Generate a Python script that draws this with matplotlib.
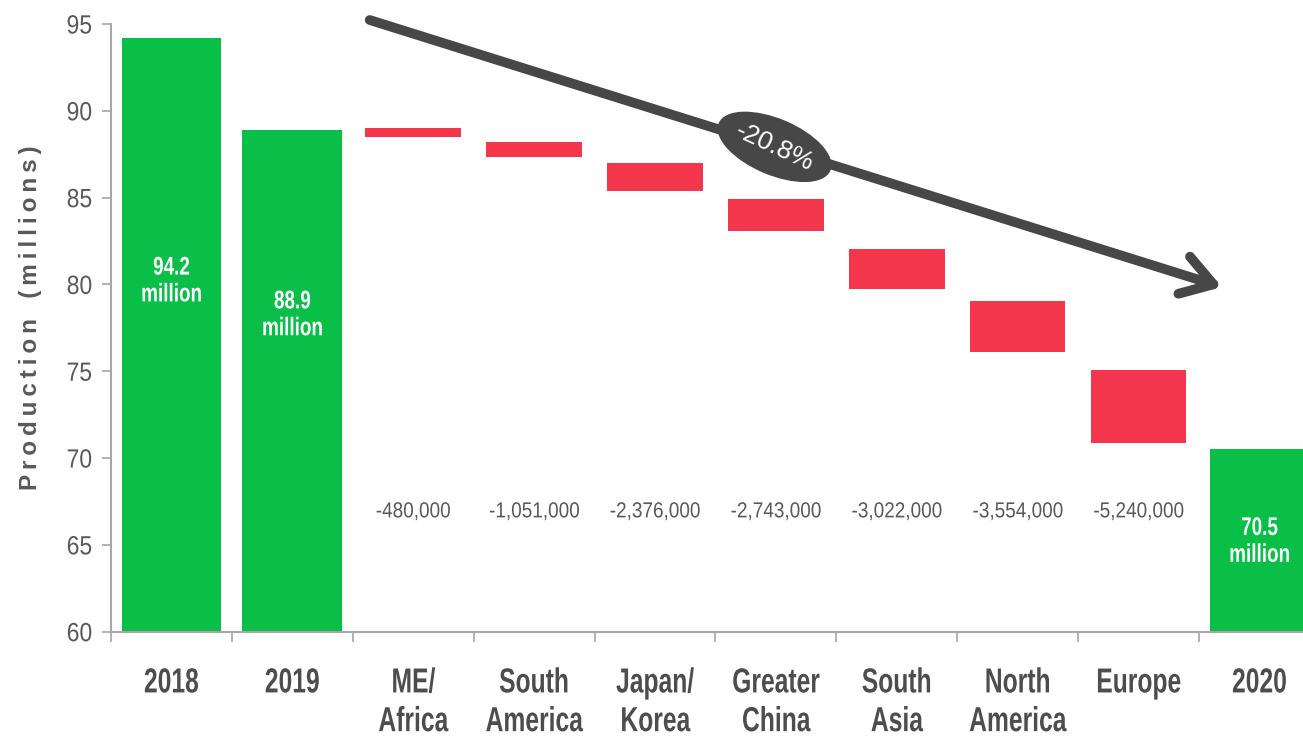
import numpy as np
import matplotlib
matplotlib.use('Agg')
import matplotlib.pyplot as plt
from matplotlib.patches import Ellipse
from matplotlib.patheffects import AbstractPathEffect
from matplotlib.transforms import IdentityTransform, Affine2D

# Data
categories = ['2018', '2019', 'ME/\nAfrica', 'South\nAmerica', 'Japan/\nKorea',
              'Greater\nChina', 'South\nAsia', 'North\nAmerica', 'Europe', '2020']
total_idx = [0, 1, 9]
total_values = [94.2, 88.9, 70.5]
total_labels = ['94.2\nmillion', '88.9\nmillion', '70.5\nmillion']
total_label_y = [80.2, 78.25, 65.2]

drop_idx = [2, 3, 4, 5, 6, 7, 8]
drop_top = [89.0, 88.2, 87.0, 84.9, 82.05, 79.05, 75.05]
drop_bottom = [88.47, 87.35, 85.37, 83.1, 79.73, 76.1, 70.85]
changes = [-480000, -1051000, -2376000, -2743000, -3022000, -3554000, -5240000]
change_label_y = 66.9

pct_change = '-20.8%'
arrow_start = (1.64, 95.23)
arrow_end = (8.69, 79.85)

GREEN = '#0abf48'
RED = '#f4364c'
DARK = '#474747'
GRAY_TXT = '#595959'
SPINE = '#a6a6a6'

plt.rcParams['font.family'] = ['Liberation Sans', 'DejaVu Sans']


class Squeeze(AbstractPathEffect):
    """squeeze text horizontally, to fake a narrow font"""
    def __init__(self, sx, anchor='center'):
        super().__init__()
        self.sx = sx
        self.anchor = anchor

    def draw_path(self, renderer, gc, tpath, affine, rgbFace=None):
        ext = tpath.get_extents(affine)
        x0 = ext.x1 if self.anchor == 'right' else (ext.x0 + ext.x1) / 2
        aff = affine + Affine2D().translate(-x0, 0).scale(self.sx, 1).translate(x0, 0)
        renderer.draw_path(gc, tpath, aff, rgbFace)


fig = plt.figure(figsize=(13.03, 7.36), dpi=100)
ax = fig.add_axes([111 / 1303, 1 - 631.7 / 736, 1 - 111 / 1303, (631.7 - 24) / 736])

x = np.arange(len(categories))

# green totals
ax.bar([x[i] for i in total_idx], total_values, width=0.825, color=GREEN, zorder=2)
for i, lab, ly in zip(total_idx, total_labels, total_label_y):
    ax.text(x[i], ly, lab, ha='center', va='center', color='white',
            fontsize=18.4, fontweight='bold', linespacing=1.15, zorder=3,
            path_effects=[Squeeze(0.74)])

# red decreases
heights = np.array(drop_top) - np.array(drop_bottom)
ax.bar([x[i] for i in drop_idx], heights, bottom=drop_bottom, width=0.79,
       color=RED, zorder=2)
for i, c in zip(drop_idx, changes):
    ax.text(x[i], change_label_y, f'{c:,}', ha='center', va='center',
            color=GRAY_TXT, fontsize=15.7, path_effects=[Squeeze(0.87)])

# axes styling
for s in ['top', 'right']:
    ax.spines[s].set_visible(False)
for s in ['left', 'bottom']:
    ax.spines[s].set_color(SPINE)
    ax.spines[s].set_linewidth(1.5)

ax.set_yticks(np.arange(60, 96, 5))
ax.tick_params(axis='y', length=6.5, width=1.2, color=SPINE, pad=7,
               labelsize=19, labelcolor=GRAY_TXT)
for lab in ax.get_yticklabels():
    lab.set_path_effects([Squeeze(0.87, 'right')])

ax.set_xticks(x)
ax.set_xticklabels(categories, fontsize=25, fontweight='bold', color='#4d4d4d',
                   linespacing=1.22)
for lab in ax.get_xticklabels():
    lab.set_path_effects([Squeeze(0.71)])
ax.tick_params(axis='x', length=0, pad=25)
ax.set_xticks(np.arange(-0.5, 9, 1), minor=True)
ax.tick_params(axis='x', which='minor', length=7.5, width=1.2, color=SPINE)

# limits after the ticks, the last bar runs off the right edge
ax.set_xlim(-0.5, 9.36)
ax.set_ylim(60, 95)

# wide letter spacing like the original
ylab = '   '.join('\u2009'.join(w) for w in ['Production', '(millions)'])
ax.set_ylabel(ylab, fontsize=17.5, fontweight='bold', color=GRAY_TXT)
ax.yaxis.set_label_coords(-0.058, 0.516)

# trend arrow
ax.annotate('', xy=arrow_end, xytext=arrow_start, annotation_clip=False,
            arrowprops=dict(arrowstyle='->,head_length=0.55,head_width=0.35',
                            lw=7, color=DARK, mutation_scale=40,
                            capstyle='round', joinstyle='round',
                            shrinkA=0, shrinkB=0), zorder=4)

# percentage badge on the arrow
t = 0.475
bx = arrow_start[0] + t * (arrow_end[0] - arrow_start[0])
by = arrow_start[1] + t * (arrow_end[1] - arrow_start[1])
fig.canvas.draw()
cx, cy = ax.transData.transform((bx, by))
badge = Ellipse((cx, cy), 120, 55, angle=-23, color=DARK,
                transform=IdentityTransform(), zorder=5, clip_on=False)
ax.add_artist(badge)
ax.text(bx, by, pct_change, ha='center', va='center', rotation=-25,
        rotation_mode='anchor', fontsize=19, color='white', zorder=6)

fig.savefig('out.png', dpi=100)
